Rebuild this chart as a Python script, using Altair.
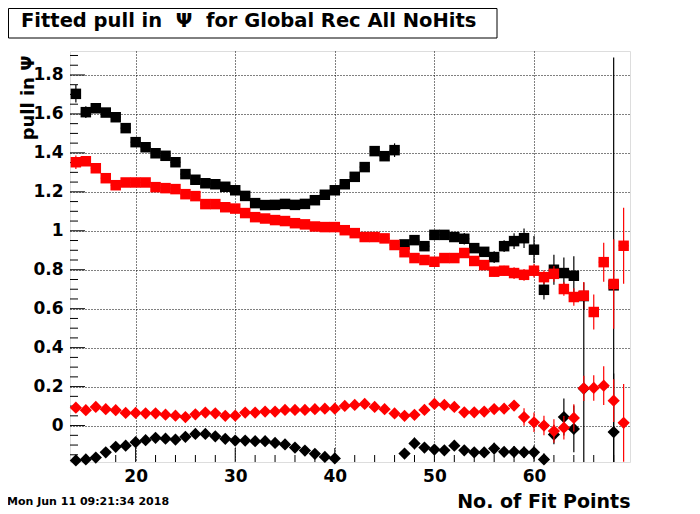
import altair as alt
import pandas as pd

# ---------------- data ----------------
x_bins = list(range(14, 70))  # 56 bins, centres 14..69

black_sq = [1.703, 1.609, 1.629, 1.607, 1.583, 1.527, 1.455, 1.429, 1.398, 1.385,
            1.352, 1.291, 1.262, 1.244, 1.239, 1.226, 1.208, 1.179, 1.142, 1.132,
            1.133, 1.138, 1.133, 1.138, 1.157, 1.185, 1.208, 1.239, 1.277, 1.327,
            1.409, 1.383, 1.414, 0.930, 0.952, 0.921, 0.979, 0.979, 0.968, 0.959,
            0.911, 0.892, 0.865, 0.921, 0.947, 0.962, 0.903, 0.697, 0.800, 0.783,
            0.769, 0.665, None, None, 0.720, None]
black_sq_err = [0.045, 0.03, 0.02, 0.02, 0.015, 0.012, 0.012, 0.012, 0.012, 0.012,
                0.012, 0.012, 0.012, 0.012, 0.012, 0.012, 0.012, 0.012, 0.012, 0.012,
                0.012, 0.012, 0.012, 0.012, 0.012, 0.012, 0.012, 0.012, 0.015, 0.015,
                0.02, 0.02, 0.035, 0.02, 0.02, 0.02, 0.02, 0.025, 0.02, 0.03,
                0.02, 0.025, 0.03, 0.03, 0.04, 0.05, 0.07, 0.05, 0.077, 0.08,
                0.1, 0.07, None, None, 1.17, None]

red_sq = [1.352, 1.357, 1.321, 1.270, 1.234, 1.248, 1.248, 1.248, 1.224, 1.219,
          1.214, 1.188, 1.178, 1.137, 1.137, 1.121, 1.114, 1.091, 1.070, 1.063,
          1.055, 1.050, 1.039, 1.033, 1.022, 1.019, 1.019, 1.003, 0.988, 0.968,
          0.968, 0.961, 0.927, 0.890, 0.860, 0.850, 0.841, 0.860, 0.860, 0.886,
          0.845, 0.824, 0.790, 0.795, 0.783, 0.774, 0.795, 0.762, 0.779, 0.701,
          0.660, 0.667, 0.583, 0.839, 0.727, 0.923]
red_sq_err = [0.035, 0.02, 0.015, 0.012, 0.01, 0.01, 0.01, 0.01, 0.01, 0.01,
              0.01, 0.01, 0.01, 0.01, 0.01, 0.01, 0.01, 0.01, 0.01, 0.01,
              0.01, 0.01, 0.01, 0.01, 0.01, 0.01, 0.01, 0.01, 0.01, 0.01,
              0.012, 0.012, 0.015, 0.015, 0.015, 0.015, 0.015, 0.015, 0.015, 0.015,
              0.02, 0.02, 0.025, 0.025, 0.03, 0.03, 0.035, 0.035, 0.04, 0.035,
              0.045, 0.07, 0.09, 0.1, 0.23, 0.195]

red_dia = [0.092, 0.079, 0.096, 0.084, 0.079, 0.065, 0.065, 0.063, 0.063, 0.056,
           0.051, 0.044, 0.058, 0.067, 0.063, 0.050, 0.051, 0.067, 0.067, 0.072,
           0.072, 0.080, 0.080, 0.080, 0.084, 0.087, 0.087, 0.101, 0.106, 0.111,
           0.096, 0.084, 0.062, 0.050, 0.055, 0.080, 0.111, 0.106, 0.096, 0.068,
           0.068, 0.072, 0.085, 0.087, 0.103, 0.044, 0.017, 0.000, -0.028, -0.011,
           0.039, 0.191, 0.193, 0.205, 0.128, 0.014]
red_dia_err = [0.015, 0.01, 0.01, 0.01, 0.01, 0.01, 0.01, 0.01, 0.01, 0.01,
               0.01, 0.01, 0.01, 0.01, 0.01, 0.01, 0.01, 0.01, 0.01, 0.01,
               0.01, 0.01, 0.01, 0.01, 0.01, 0.01, 0.01, 0.01, 0.01, 0.01,
               0.01, 0.01, 0.012, 0.012, 0.012, 0.012, 0.012, 0.012, 0.012, 0.015,
               0.015, 0.02, 0.02, 0.02, 0.025, 0.045, 0.05, 0.05, 0.06, 0.06,
               0.07, 0.065, 0.065, 0.1, 0.11, 0.2]

black_dia = [-0.179, -0.174, -0.164, -0.137, -0.109, -0.103, -0.085, -0.075, -0.063, -0.067,
             -0.072, -0.058, -0.043, -0.043, -0.055, -0.068, -0.077, -0.077, -0.080, -0.080,
             -0.089, -0.097, -0.113, -0.128, -0.145, -0.161, -0.169, None, None, None,
             None, None, None, -0.144, -0.092, -0.113, -0.123, -0.127, -0.103, -0.127,
             -0.137, -0.138, -0.118, -0.135, -0.135, -0.137, -0.137, -0.174, -0.046, 0.044,
             -0.017, 0.190, None, None, -0.033, None]
black_dia_err = [0.012, 0.01, 0.01, 0.01, 0.01, 0.01, 0.01, 0.01, 0.01, 0.01,
                 0.01, 0.01, 0.01, 0.01, 0.01, 0.01, 0.01, 0.01, 0.01, 0.01,
                 0.01, 0.01, 0.01, 0.01, 0.01, 0.01, 0.01, None, None, None,
                 None, None, None, 0.02, 0.03, 0.02, 0.02, 0.02, 0.02, 0.02,
                 0.02, 0.02, 0.03, 0.025, 0.03, 0.03, 0.035, 0.03, 0.05, 0.095,
                 0.12, 0.45, None, None, 0.3, None]

x_major = [20, 30, 40, 50, 60]
x_minor = [14, 16, 18, 22, 24, 26, 28, 32, 34, 36, 38, 42, 44, 46, 48,
           52, 54, 56, 58, 62, 64, 66, 68]
y_major = [0, 0.2, 0.4, 0.6, 0.8, 1.0, 1.2, 1.4, 1.6, 1.8]
y_minor = [-0.15, -0.1, -0.05, 0.05, 0.1, 0.15, 0.25, 0.3, 0.35, 0.45, 0.5, 0.55,
           0.65, 0.7, 0.75, 0.85, 0.9, 0.95, 1.05, 1.1, 1.15, 1.25, 1.3, 1.35,
           1.45, 1.5, 1.55, 1.65, 1.7, 1.75, 1.85, 1.9]

title_text = ["Fitted pull in \u00a0\u03a8\u00a0 for Global Rec All NoHits"]
date_text = ["Mon Jun 11 09:21:34 2018"]
x_title = "No. of Fit Points"
y_title = "pull in \u03a8"

# ---------------- build table ----------------
rows = []
for name, vals, errs in [("bs", black_sq, black_sq_err), ("rs", red_sq, red_sq_err),
                         ("bd", black_dia, black_dia_err), ("rd", red_dia, red_dia_err)]:
    for xv, v, e in zip(x_bins, vals, errs):
        if v is None:
            continue
        rows.append({"bin": xv, "val": v, "err": e, "series": name})
df = pd.DataFrame(rows)

W, H = 560, 411
FONT = "DejaVu Sans"
xs = alt.Scale(domain=[13.41, 69.64], nice=False, zero=False)
ys = alt.Scale(domain=[-0.187, 1.923], nice=False, zero=False)

x_axis = alt.Axis(values=x_major, grid=True, gridColor="black", gridDash=[1, 2],
                  gridWidth=1, gridOpacity=1, ticks=False, tickSize=0, domain=False,
                  labelFont=FONT, labelFontSize=17, labelFontWeight="bold",
                  labelColor="black", labelPadding=6, title=x_title,
                  titleFont=FONT, titleFontSize=19, titleFontWeight="bold",
                  titleColor="black", titleAnchor="end", titleAlign="right",
                  titleX=W, titleY=39, titleBaseline="middle")
y_axis = alt.Axis(values=y_major, format="~g", grid=True, gridColor="black",
                  gridDash=[1, 2], gridWidth=1, gridOpacity=1, ticks=False, tickSize=0,
                  domain=False, labelFont=FONT, labelFontSize=17, labelFontWeight="bold",
                  labelColor="black", labelPadding=7, title=y_title, titleFont=FONT,
                  titleFontSize=18, titleFontWeight="bold", titleColor="black",
                  titleAngle=270, titleAlign="right", titleBaseline="middle",
                  titleX=-42, titleY=4)

layers = []

# inside tick marks
xt_major = alt.Chart(pd.DataFrame({"v": x_major})).mark_rule(color="black").encode(
    x=alt.X("v:Q", scale=xs, axis=x_axis), y=alt.value(H), y2=alt.value(H - 14))
xt_minor = alt.Chart(pd.DataFrame({"v": x_minor})).mark_rule(color="black").encode(
    x=alt.X("v:Q", scale=xs, axis=x_axis), y=alt.value(H), y2=alt.value(H - 7))
yt_major = alt.Chart(pd.DataFrame({"v": y_major})).mark_rule(color="black").encode(
    y=alt.Y("v:Q", scale=ys, axis=y_axis), x=alt.value(0), x2=alt.value(15))
yt_minor = alt.Chart(pd.DataFrame({"v": y_minor})).mark_rule(color="black").encode(
    y=alt.Y("v:Q", scale=ys, axis=y_axis), x=alt.value(0), x2=alt.value(8))
layers += [xt_major, xt_minor, yt_major, yt_minor]


def series_layers(name, color, shape, size):
    base = alt.Chart(df).transform_filter(alt.datum.series == name).transform_calculate(
        lo="datum.val - datum.err", hi="datum.val + datum.err",
        xl="datum.bin - 0.5", xh="datum.bin + 0.5")
    ev = base.mark_rule(color=color, strokeWidth=1.2, clip=True).encode(
        x=alt.X("bin:Q", scale=xs, axis=x_axis),
        y=alt.Y("lo:Q", scale=ys, axis=y_axis), y2="hi:Q")
    eh = base.mark_rule(color=color, strokeWidth=1.2, clip=True).encode(
        x=alt.X("xl:Q", scale=xs, axis=x_axis), x2="xh:Q",
        y=alt.Y("val:Q", scale=ys, axis=y_axis))
    pts = base.mark_point(shape=shape, filled=True, size=size, color=color,
                          opacity=1, strokeWidth=0).encode(
        x=alt.X("bin:Q", scale=xs, axis=x_axis),
        y=alt.Y("val:Q", scale=ys, axis=y_axis))
    return [ev, eh, pts]


layers += series_layers("bs", "black", "square", 110)
layers += series_layers("rs", "#ff0000", "square", 110)
layers += series_layers("bd", "black", "diamond", 150)
layers += series_layers("rd", "#ff0000", "diamond", 150)

# title box + title text
box = alt.Chart(pd.DataFrame({"t": title_text})).mark_rect(
    fill="white", stroke="black", strokeWidth=1).encode(
    x=alt.value(-61.5), x2=alt.value(427), y=alt.value(-42.5), y2=alt.value(-13))
ttl = alt.Chart(pd.DataFrame({"t": title_text})).mark_text(
    font=FONT, fontSize=19.5, fontWeight="bold", color="black", align="left",
    baseline="middle").encode(x=alt.value(-49), y=alt.value(-30), text="t:N")
date = alt.Chart(pd.DataFrame({"t": date_text})).mark_text(
    font=FONT, fontSize=11, fontWeight="bold", color="black", align="left",
    baseline="middle").encode(x=alt.value(-63), y=alt.value(451), text="t:N")
layers += [box, ttl, date]

chart = alt.layer(*layers).properties(
    width=W, height=H,
    autosize=alt.AutoSizeParams(type="none"),
    padding={"left": 62, "top": 43, "right": 62, "bottom": 48},
).configure_view(stroke="black", strokeWidth=1.2).configure(background="white")

chart.save("out.html", embed_options={"renderer": "svg", "actions": False})
